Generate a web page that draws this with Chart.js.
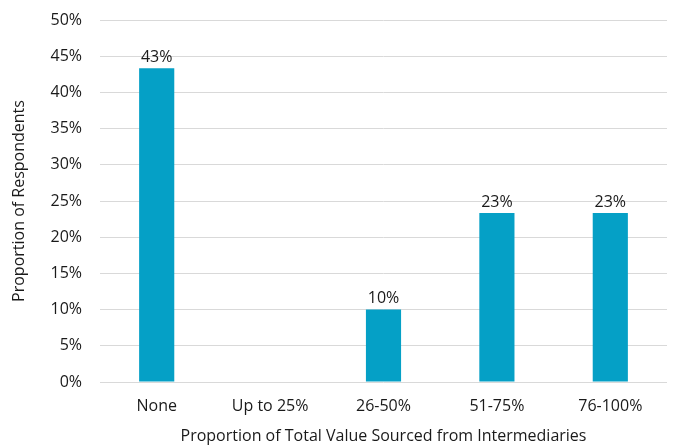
<!DOCTYPE html>
<html>
<head>
<meta charset="utf-8">
<script src="https://cdn.jsdelivr.net/npm/chart.js@4/dist/chart.umd.min.js"></script>
<style>
html,body{margin:0;padding:0;background:#fff;}
#wrap{width:675px;height:446px;position:relative;}
</style>
</head>
<body>
<div id="wrap"><canvas id="c" width="675" height="446"></canvas></div>
<script>
const categories = ["None", "Up to 25%", "26-50%", "51-75%", "76-100%"];
const values = [43.33, 0, 10, 23.33, 23.33];
const valueLabels = ["43%", "", "10%", "23%", "23%"];
const yTicks = [0, 5, 10, 15, 20, 25, 30, 35, 40, 45, 50];
const xTitle = "Proportion of Total Value Sourced from Intermediaries";
const yTitle = "Proportion of Respondents";

const FONT = "'Open Sans', 'Noto Sans', sans-serif";
const TXT = "#1a1a1a";
const FS = 16;

const labelPlugin = {
  id: "barLabels",
  afterDatasetsDraw(chart) {
    const ctx = chart.ctx;
    const meta = chart.getDatasetMeta(0);
    ctx.save();
    ctx.font = FS + "px " + FONT;
    ctx.fillStyle = TXT;
    ctx.textAlign = "center";
    ctx.textBaseline = "bottom";
    meta.data.forEach((bar, i) => {
      if (!valueLabels[i]) return;
      ctx.fillText(valueLabels[i], bar.x, bar.y - 3);
    });
    ctx.restore();
  }
};

new Chart(document.getElementById("c"), {
  type: "bar",
  data: {
    labels: categories,
    datasets: [{
      data: values,
      backgroundColor: "#05a0c6",
      borderWidth: 0,
      categoryPercentage: 1,
      barPercentage: 0.31
    }]
  },
  options: {
    responsive: false,
    animation: false,
    devicePixelRatio: 1,
    layout: { padding: { top: 20, right: 8, left: 10, bottom: 0 } },
    plugins: { legend: { display: false }, tooltip: { enabled: false } },
    scales: {
      x: {
        grid: { display: false, drawTicks: false },
        border: { display: false },
        ticks: { color: TXT, font: { family: FONT, size: FS }, padding: 15 },
        title: { display: true, text: xTitle, color: TXT, font: { family: FONT, size: FS }, padding: { top: 4, bottom: 0 } },
        afterFit(s) { s.height = 64; }
      },
      y: {
        min: 0, max: 50,
        afterBuildTicks(s) { s.ticks = yTicks.map(v => ({ value: v })); },
        grid: { color: "#d9d9d9", lineWidth: 1, drawTicks: false },
        border: { display: false },
        ticks: { color: TXT, font: { family: FONT, size: FS }, padding: 18, callback: v => v + "%" },
        title: { display: true, text: yTitle, color: TXT, font: { family: FONT, size: FS }, padding: { top: 0, bottom: 4 } },
        afterFit(s) { s.width = 90; s.paddingTop = 0; s.paddingBottom = 0; }
      }
    }
  },
  plugins: [labelPlugin]
});
</script>
</body>
</html>
